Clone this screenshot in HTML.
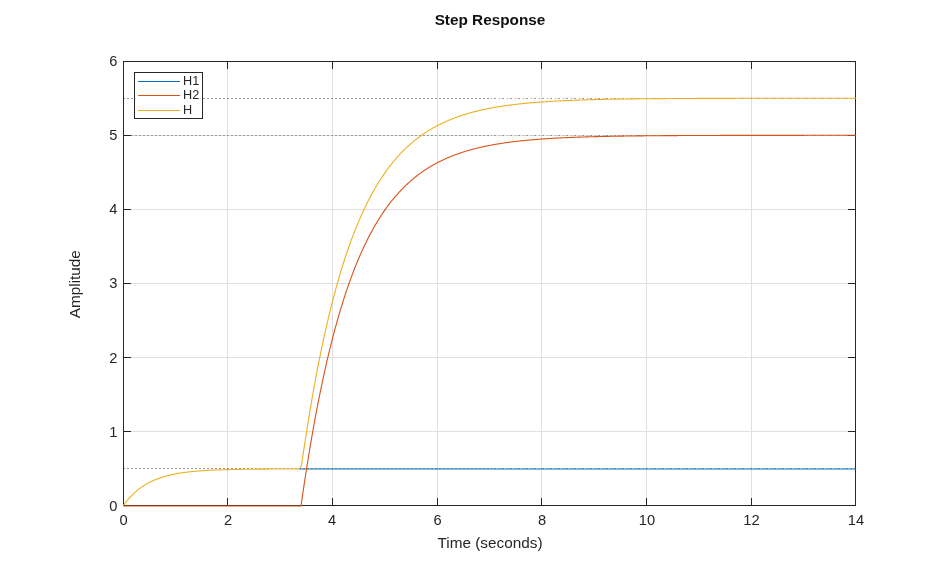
<!DOCTYPE html>
<html><head><meta charset="utf-8"><style>
html,body{margin:0;padding:0;background:#fff;width:946px;height:569px;overflow:hidden;position:relative;}
svg{will-change:transform;}
</style></head><body>
<svg width="946" height="569" viewBox="0 0 946 569" style="position:absolute;left:0;top:0">
<path d="M227.5,62 V505 M332.5,62 V505 M437.5,62 V505 M541.5,62 V505 M646.5,62 V505 M751.5,62 V505 M124,431.5 H855 M124,357.5 H855 M124,283.5 H855 M124,209.5 H855 M124,135.5 H855" stroke="#dfdfdf" stroke-width="1" fill="none"/>
<path d="M123,98.5 H489" stroke="#9a9a9a" stroke-width="1" stroke-dasharray="2,2" fill="none"/>
<path d="M491,98.5 H856" stroke="#9a9a9a" stroke-width="1" stroke-dasharray="1,2,2,3" fill="none"/>
<path d="M123,135.5 H489" stroke="#9a9a9a" stroke-width="1" stroke-dasharray="2,2" fill="none"/>
<path d="M491,135.5 H856" stroke="#9a9a9a" stroke-width="1" stroke-dasharray="1,2,2,3" fill="none"/>
<path d="M123,468.5 H489" stroke="#9a9a9a" stroke-width="1" stroke-dasharray="2,2" fill="none"/>
<path d="M491,468.5 H856" stroke="#9a9a9a" stroke-width="1" stroke-dasharray="1,2,2,3" fill="none"/>
<path d="M123.5,61.5 H855.5 V505.5 H123.5 Z M123.5,498 V505 M123.5,61 V69 M227.5,498 V505 M227.5,61 V69 M332.5,498 V505 M332.5,61 V69 M437.5,498 V505 M437.5,61 V69 M541.5,498 V505 M541.5,61 V69 M646.5,498 V505 M646.5,61 V69 M751.5,498 V505 M751.5,61 V69 M855.5,498 V505 M855.5,61 V69 M123,505.5 H131 M848,505.5 H856 M123,431.5 H131 M848,431.5 H856 M123,357.5 H131 M848,357.5 H856 M123,283.5 H131 M848,283.5 H856 M123,209.5 H131 M848,209.5 H856 M123,135.5 H131 M848,135.5 H856 M123,61.5 H131 M848,61.5 H856" stroke="#262626" stroke-width="1" fill="none"/>
<path d="M298.92,468.97 L299.44,468.97 L299.97,468.97 L300.49,468.97 L301.01,468.97 L301.54,468.97 L302.06,468.97 L302.59,468.97 L303.11,468.97 L303.63,468.97 L304.16,468.97 L304.68,468.97 L305.20,468.97 L305.73,468.96 L306.25,468.96 L306.77,468.96 L307.30,468.96 L307.82,468.96 L308.34,468.96 L308.87,468.96 L309.39,468.96 L309.91,468.96 L310.44,468.96 L310.96,468.96 L311.49,468.96 L312.01,468.96 L312.53,468.96 L313.06,468.96 L313.58,468.96 L314.10,468.96 L314.63,468.95 L315.15,468.95 L315.67,468.95 L316.20,468.95 L316.72,468.95 L317.25,468.95 L317.77,468.95 L318.29,468.95 L318.82,468.95 L319.34,468.95 L319.86,468.95 L320.39,468.95 L320.91,468.95 L321.43,468.95 L321.96,468.95 L322.48,468.95 L323.00,468.95 L323.53,468.95 L324.05,468.95 L324.57,468.95 L325.10,468.95 L325.62,468.95 L326.15,468.95 L326.67,468.95 L327.19,468.95 L327.72,468.94 L328.24,468.94 L328.76,468.94 L329.29,468.94 L329.81,468.94 L330.33,468.94 L330.86,468.94 L331.38,468.94 L331.90,468.94 L332.43,468.94 L332.95,468.94 L333.48,468.94 L334.00,468.94 L334.52,468.94 L335.05,468.94 L335.57,468.94 L336.09,468.94 L336.62,468.94 L337.14,468.94 L337.66,468.94 L338.19,468.94 L338.71,468.94 L339.24,468.94 L339.76,468.94 L340.28,468.94 L340.81,468.94 L341.33,468.94 L341.85,468.94 L342.38,468.94 L342.90,468.94 L343.42,468.94 L343.95,468.94 L344.47,468.94 L344.99,468.94 L345.52,468.94 L346.04,468.94 L346.56,468.94 L347.09,468.94 L347.61,468.94 L348.14,468.94 L348.66,468.94 L349.18,468.94 L349.71,468.94 L350.23,468.94 L350.75,468.94 L351.28,468.94 L351.80,468.94 L352.32,468.94 L352.85,468.94 L353.37,468.94 L353.89,468.94 L354.42,468.94 L354.94,468.94 L355.47,468.94 L355.99,468.94 L356.51,468.93 L357.04,468.93 L357.56,468.93 L358.08,468.93 L358.61,468.93 L359.13,468.93 L359.65,468.93 L360.18,468.93 L360.70,468.93 L361.22,468.93 L361.75,468.93 L362.27,468.93 L362.80,468.93 L363.32,468.93 L363.84,468.93 L364.37,468.93 L364.89,468.93 L365.41,468.93 L365.94,468.93 L366.46,468.93 L366.98,468.93 L367.51,468.93 L368.03,468.93 L368.56,468.93 L369.08,468.93 L369.60,468.93 L370.13,468.93 L370.65,468.93 L371.17,468.93 L371.70,468.93 L372.22,468.93 L372.74,468.93 L373.27,468.93 L373.79,468.93 L374.31,468.93 L374.84,468.93 L375.36,468.93 L375.88,468.93 L376.41,468.93 L376.93,468.93 L377.46,468.93 L377.98,468.93 L378.50,468.93 L379.03,468.93 L379.55,468.93 L380.07,468.93 L380.60,468.93 L381.12,468.93 L381.64,468.93 L382.17,468.93 L382.69,468.93 L383.21,468.93 L383.74,468.93 L384.26,468.93 L384.79,468.93 L385.31,468.93 L385.83,468.93 L386.36,468.93 L386.88,468.93 L387.40,468.93 L387.93,468.93 L388.45,468.93 L388.97,468.93 L389.50,468.93 L390.02,468.93 L390.55,468.93 L391.07,468.93 L391.59,468.93 L392.12,468.93 L392.64,468.93 L393.16,468.93 L393.69,468.93 L394.21,468.93 L394.73,468.93 L395.26,468.93 L395.78,468.93 L396.30,468.93 L396.83,468.93 L397.35,468.93 L397.88,468.93 L398.40,468.93 L398.92,468.93 L399.45,468.93 L399.97,468.93 L400.49,468.93 L401.02,468.93 L401.54,468.93 L402.06,468.93 L402.59,468.93 L403.11,468.93 L403.63,468.93 L404.16,468.93 L404.68,468.93 L405.20,468.93 L405.73,468.93 L406.25,468.93 L406.78,468.93 L407.30,468.93 L407.82,468.93 L408.35,468.93 L408.87,468.93 L409.39,468.93 L409.92,468.93 L410.44,468.93 L410.96,468.93 L411.49,468.93 L412.01,468.93 L412.53,468.93 L413.06,468.93 L413.58,468.93 L414.11,468.93 L414.63,468.93 L415.15,468.93 L415.68,468.93 L416.20,468.93 L416.72,468.93 L417.25,468.93 L417.77,468.93 L418.29,468.93 L418.82,468.93 L419.34,468.93 L419.86,468.93 L420.39,468.93 L420.91,468.93 L421.44,468.93 L421.96,468.93 L422.48,468.93 L423.01,468.93 L423.53,468.93 L424.05,468.93 L424.58,468.93 L425.10,468.93 L425.62,468.93 L426.15,468.93 L426.67,468.93 L427.19,468.93 L427.72,468.93 L428.24,468.93 L428.77,468.93 L429.29,468.93 L429.81,468.93 L430.34,468.93 L430.86,468.93 L431.38,468.93 L431.91,468.93 L432.43,468.93 L432.95,468.93 L433.48,468.93 L434.00,468.93 L434.52,468.93 L435.05,468.93 L435.57,468.93 L436.10,468.93 L436.62,468.93 L437.14,468.93 L437.67,468.93 L438.19,468.93 L438.71,468.93 L439.24,468.93 L439.76,468.93 L440.28,468.93 L440.81,468.93 L441.33,468.93 L441.85,468.93 L442.38,468.93 L442.90,468.93 L443.43,468.93 L443.95,468.93 L444.47,468.93 L445.00,468.93 L445.52,468.93 L446.04,468.93 L446.57,468.93 L447.09,468.93 L447.61,468.93 L448.14,468.93 L448.66,468.93 L449.19,468.93 L449.71,468.93 L450.23,468.93 L450.76,468.93 L451.28,468.93 L451.80,468.93 L452.33,468.93 L452.85,468.93 L453.37,468.93 L453.90,468.93 L454.42,468.93 L454.94,468.93 L455.47,468.93 L455.99,468.93 L456.51,468.93 L457.04,468.93 L457.56,468.93 L458.09,468.93 L458.61,468.93 L459.13,468.93 L459.66,468.93 L460.18,468.93 L460.70,468.93 L461.23,468.93 L461.75,468.93 L462.27,468.93 L462.80,468.93 L463.32,468.93 L463.84,468.93 L464.37,468.93 L464.89,468.93 L465.42,468.93 L465.94,468.93 L466.46,468.93 L466.99,468.93 L467.51,468.93 L468.03,468.93 L468.56,468.93 L469.08,468.93 L469.60,468.93 L470.13,468.93 L470.65,468.93 L471.18,468.93 L471.70,468.93 L472.22,468.93 L472.75,468.93 L473.27,468.93 L473.79,468.93 L474.32,468.93 L474.84,468.93 L475.36,468.93 L475.89,468.93 L476.41,468.93 L476.93,468.93 L477.46,468.93 L477.98,468.93 L478.50,468.93 L479.03,468.93 L479.55,468.93 L480.08,468.93 L480.60,468.93 L481.12,468.93 L481.65,468.93 L482.17,468.93 L482.69,468.93 L483.22,468.93 L483.74,468.93 L484.26,468.93 L484.79,468.93 L485.31,468.93 L485.83,468.93 L486.36,468.93 L486.88,468.93 L487.41,468.93 L487.93,468.93 L488.45,468.93 L488.98,468.93 L489.50,468.93 L490.02,468.93 L490.55,468.93 L491.07,468.93 L491.59,468.93 L492.12,468.93 L492.64,468.93 L493.17,468.93 L493.69,468.93 L494.21,468.93 L494.74,468.93 L495.26,468.93 L495.78,468.93 L496.31,468.93 L496.83,468.93 L497.35,468.93 L497.88,468.93 L498.40,468.93 L498.92,468.93 L499.45,468.93 L499.97,468.93 L500.50,468.93 L501.02,468.93 L501.54,468.93 L502.07,468.93 L502.59,468.93 L503.11,468.93 L503.64,468.93 L504.16,468.93 L504.68,468.93 L505.21,468.93 L505.73,468.93 L506.25,468.93 L506.78,468.93 L507.30,468.93 L507.82,468.93 L508.35,468.93 L508.87,468.93 L509.40,468.93 L509.92,468.93 L510.44,468.93 L510.97,468.93 L511.49,468.93 L512.01,468.93 L512.54,468.93 L513.06,468.93 L513.58,468.93 L514.11,468.93 L514.63,468.93 L515.15,468.93 L515.68,468.93 L516.20,468.93 L516.73,468.93 L517.25,468.93 L517.77,468.93 L518.30,468.93 L518.82,468.93 L519.34,468.93 L519.87,468.93 L520.39,468.93 L520.91,468.93 L521.44,468.93 L521.96,468.93 L522.48,468.93 L523.01,468.93 L523.53,468.93 L524.06,468.93 L524.58,468.93 L525.10,468.93 L525.63,468.93 L526.15,468.93 L526.67,468.93 L527.20,468.93 L527.72,468.93 L528.24,468.93 L528.77,468.93 L529.29,468.93 L529.81,468.93 L530.34,468.93 L530.86,468.93 L531.39,468.93 L531.91,468.93 L532.43,468.93 L532.96,468.93 L533.48,468.93 L534.00,468.93 L534.53,468.93 L535.05,468.93 L535.57,468.93 L536.10,468.93 L536.62,468.93 L537.14,468.93 L537.67,468.93 L538.19,468.93 L538.72,468.93 L539.24,468.93 L539.76,468.93 L540.29,468.93 L540.81,468.93 L541.33,468.93 L541.86,468.93 L542.38,468.93 L542.90,468.93 L543.43,468.93 L543.95,468.93 L544.48,468.93 L545.00,468.93 L545.52,468.93 L546.05,468.93 L546.57,468.93 L547.09,468.93 L547.62,468.93 L548.14,468.93 L548.66,468.93 L549.19,468.93 L549.71,468.93 L550.23,468.93 L550.76,468.93 L551.28,468.93 L551.80,468.93 L552.33,468.93 L552.85,468.93 L553.38,468.93 L553.90,468.93 L554.42,468.93 L554.95,468.93 L555.47,468.93 L555.99,468.93 L556.52,468.93 L557.04,468.93 L557.56,468.93 L558.09,468.93 L558.61,468.93 L559.13,468.93 L559.66,468.93 L560.18,468.93 L560.71,468.93 L561.23,468.93 L561.75,468.93 L562.28,468.93 L562.80,468.93 L563.32,468.93 L563.85,468.93 L564.37,468.93 L564.89,468.93 L565.42,468.93 L565.94,468.93 L566.47,468.93 L566.99,468.93 L567.51,468.93 L568.04,468.93 L568.56,468.93 L569.08,468.93 L569.61,468.93 L570.13,468.93 L570.65,468.93 L571.18,468.93 L571.70,468.93 L572.22,468.93 L572.75,468.93 L573.27,468.93 L573.79,468.93 L574.32,468.93 L574.84,468.93 L575.37,468.93 L575.89,468.93 L576.41,468.93 L576.94,468.93 L577.46,468.93 L577.98,468.93 L578.51,468.93 L579.03,468.93 L579.55,468.93 L580.08,468.93 L580.60,468.93 L581.12,468.93 L581.65,468.93 L582.17,468.93 L582.70,468.93 L583.22,468.93 L583.74,468.93 L584.27,468.93 L584.79,468.93 L585.31,468.93 L585.84,468.93 L586.36,468.93 L586.88,468.93 L587.41,468.93 L587.93,468.93 L588.45,468.93 L588.98,468.93 L589.50,468.93 L590.03,468.93 L590.55,468.93 L591.07,468.93 L591.60,468.93 L592.12,468.93 L592.64,468.93 L593.17,468.93 L593.69,468.93 L594.21,468.93 L594.74,468.93 L595.26,468.93 L595.78,468.93 L596.31,468.93 L596.83,468.93 L597.36,468.93 L597.88,468.93 L598.40,468.93 L598.93,468.93 L599.45,468.93 L599.97,468.93 L600.50,468.93 L601.02,468.93 L601.54,468.93 L602.07,468.93 L602.59,468.93 L603.12,468.93 L603.64,468.93 L604.16,468.93 L604.69,468.93 L605.21,468.93 L605.73,468.93 L606.26,468.93 L606.78,468.93 L607.30,468.93 L607.83,468.93 L608.35,468.93 L608.87,468.93 L609.40,468.93 L609.92,468.93 L610.44,468.93 L610.97,468.93 L611.49,468.93 L612.02,468.93 L612.54,468.93 L613.06,468.93 L613.59,468.93 L614.11,468.93 L614.63,468.93 L615.16,468.93 L615.68,468.93 L616.20,468.93 L616.73,468.93 L617.25,468.93 L617.77,468.93 L618.30,468.93 L618.82,468.93 L619.35,468.93 L619.87,468.93 L620.39,468.93 L620.92,468.93 L621.44,468.93 L621.96,468.93 L622.49,468.93 L623.01,468.93 L623.53,468.93 L624.06,468.93 L624.58,468.93 L625.11,468.93 L625.63,468.93 L626.15,468.93 L626.68,468.93 L627.20,468.93 L627.72,468.93 L628.25,468.93 L628.77,468.93 L629.29,468.93 L629.82,468.93 L630.34,468.93 L630.86,468.93 L631.39,468.93 L631.91,468.93 L632.43,468.93 L632.96,468.93 L633.48,468.93 L634.01,468.93 L634.53,468.93 L635.05,468.93 L635.58,468.93 L636.10,468.93 L636.62,468.93 L637.15,468.93 L637.67,468.93 L638.19,468.93 L638.72,468.93 L639.24,468.93 L639.76,468.93 L640.29,468.93 L640.81,468.93 L641.34,468.93 L641.86,468.93 L642.38,468.93 L642.91,468.93 L643.43,468.93 L643.95,468.93 L644.48,468.93 L645.00,468.93 L645.52,468.93 L646.05,468.93 L646.57,468.93 L647.09,468.93 L647.62,468.93 L648.14,468.93 L648.67,468.93 L649.19,468.93 L649.71,468.93 L650.24,468.93 L650.76,468.93 L651.28,468.93 L651.81,468.93 L652.33,468.93 L652.85,468.93 L653.38,468.93 L653.90,468.93 L654.42,468.93 L654.95,468.93 L655.47,468.93 L656.00,468.93 L656.52,468.93 L657.04,468.93 L657.57,468.93 L658.09,468.93 L658.61,468.93 L659.14,468.93 L659.66,468.93 L660.18,468.93 L660.71,468.93 L661.23,468.93 L661.75,468.93 L662.28,468.93 L662.80,468.93 L663.33,468.93 L663.85,468.93 L664.37,468.93 L664.90,468.93 L665.42,468.93 L665.94,468.93 L666.47,468.93 L666.99,468.93 L667.51,468.93 L668.04,468.93 L668.56,468.93 L669.08,468.93 L669.61,468.93 L670.13,468.93 L670.66,468.93 L671.18,468.93 L671.70,468.93 L672.23,468.93 L672.75,468.93 L673.27,468.93 L673.80,468.93 L674.32,468.93 L674.84,468.93 L675.37,468.93 L675.89,468.93 L676.41,468.93 L676.94,468.93 L677.46,468.93 L677.99,468.93 L678.51,468.93 L679.03,468.93 L679.56,468.93 L680.08,468.93 L680.60,468.93 L681.13,468.93 L681.65,468.93 L682.17,468.93 L682.70,468.93 L683.22,468.93 L683.75,468.93 L684.27,468.93 L684.79,468.93 L685.32,468.93 L685.84,468.93 L686.36,468.93 L686.89,468.93 L687.41,468.93 L687.93,468.93 L688.46,468.93 L688.98,468.93 L689.50,468.93 L690.03,468.93 L690.55,468.93 L691.07,468.93 L691.60,468.93 L692.12,468.93 L692.65,468.93 L693.17,468.93 L693.69,468.93 L694.22,468.93 L694.74,468.93 L695.26,468.93 L695.79,468.93 L696.31,468.93 L696.83,468.93 L697.36,468.93 L697.88,468.93 L698.40,468.93 L698.93,468.93 L699.45,468.93 L699.98,468.93 L700.50,468.93 L701.02,468.93 L701.55,468.93 L702.07,468.93 L702.59,468.93 L703.12,468.93 L703.64,468.93 L704.16,468.93 L704.69,468.93 L705.21,468.93 L705.74,468.93 L706.26,468.93 L706.78,468.93 L707.31,468.93 L707.83,468.93 L708.35,468.93 L708.88,468.93 L709.40,468.93 L709.92,468.93 L710.45,468.93 L710.97,468.93 L711.49,468.93 L712.02,468.93 L712.54,468.93 L713.06,468.93 L713.59,468.93 L714.11,468.93 L714.64,468.93 L715.16,468.93 L715.68,468.93 L716.21,468.93 L716.73,468.93 L717.25,468.93 L717.78,468.93 L718.30,468.93 L718.82,468.93 L719.35,468.93 L719.87,468.93 L720.39,468.93 L720.92,468.93 L721.44,468.93 L721.97,468.93 L722.49,468.93 L723.01,468.93 L723.54,468.93 L724.06,468.93 L724.58,468.93 L725.11,468.93 L725.63,468.93 L726.15,468.93 L726.68,468.93 L727.20,468.93 L727.73,468.93 L728.25,468.93 L728.77,468.93 L729.30,468.93 L729.82,468.93 L730.34,468.93 L730.87,468.93 L731.39,468.93 L731.91,468.93 L732.44,468.93 L732.96,468.93 L733.48,468.93 L734.01,468.93 L734.53,468.93 L735.05,468.93 L735.58,468.93 L736.10,468.93 L736.63,468.93 L737.15,468.93 L737.67,468.93 L738.20,468.93 L738.72,468.93 L739.24,468.93 L739.77,468.93 L740.29,468.93 L740.81,468.93 L741.34,468.93 L741.86,468.93 L742.38,468.93 L742.91,468.93 L743.43,468.93 L743.96,468.93 L744.48,468.93 L745.00,468.93 L745.53,468.93 L746.05,468.93 L746.57,468.93 L747.10,468.93 L747.62,468.93 L748.14,468.93 L748.67,468.93 L749.19,468.93 L749.72,468.93 L750.24,468.93 L750.76,468.93 L751.29,468.93 L751.81,468.93 L752.33,468.93 L752.86,468.93 L753.38,468.93 L753.90,468.93 L754.43,468.93 L754.95,468.93 L755.47,468.93 L756.00,468.93 L756.52,468.93 L757.04,468.93 L757.57,468.93 L758.09,468.93 L758.62,468.93 L759.14,468.93 L759.66,468.93 L760.19,468.93 L760.71,468.93 L761.23,468.93 L761.76,468.93 L762.28,468.93 L762.80,468.93 L763.33,468.93 L763.85,468.93 L764.38,468.93 L764.90,468.93 L765.42,468.93 L765.95,468.93 L766.47,468.93 L766.99,468.93 L767.52,468.93 L768.04,468.93 L768.56,468.93 L769.09,468.93 L769.61,468.93 L770.13,468.93 L770.66,468.93 L771.18,468.93 L771.71,468.93 L772.23,468.93 L772.75,468.93 L773.28,468.93 L773.80,468.93 L774.32,468.93 L774.85,468.93 L775.37,468.93 L775.89,468.93 L776.42,468.93 L776.94,468.93 L777.46,468.93 L777.99,468.93 L778.51,468.93 L779.03,468.93 L779.56,468.93 L780.08,468.93 L780.61,468.93 L781.13,468.93 L781.65,468.93 L782.18,468.93 L782.70,468.93 L783.22,468.93 L783.75,468.93 L784.27,468.93 L784.79,468.93 L785.32,468.93 L785.84,468.93 L786.37,468.93 L786.89,468.93 L787.41,468.93 L787.94,468.93 L788.46,468.93 L788.98,468.93 L789.51,468.93 L790.03,468.93 L790.55,468.93 L791.08,468.93 L791.60,468.93 L792.12,468.93 L792.65,468.93 L793.17,468.93 L793.69,468.93 L794.22,468.93 L794.74,468.93 L795.27,468.93 L795.79,468.93 L796.31,468.93 L796.84,468.93 L797.36,468.93 L797.88,468.93 L798.41,468.93 L798.93,468.93 L799.45,468.93 L799.98,468.93 L800.50,468.93 L801.02,468.93 L801.55,468.93 L802.07,468.93 L802.60,468.93 L803.12,468.93 L803.64,468.93 L804.17,468.93 L804.69,468.93 L805.21,468.93 L805.74,468.93 L806.26,468.93 L806.78,468.93 L807.31,468.93 L807.83,468.93 L808.35,468.93 L808.88,468.93 L809.40,468.93 L809.93,468.93 L810.45,468.93 L810.97,468.93 L811.50,468.93 L812.02,468.93 L812.54,468.93 L813.07,468.93 L813.59,468.93 L814.11,468.93 L814.64,468.93 L815.16,468.93 L815.68,468.93 L816.21,468.93 L816.73,468.93 L817.26,468.93 L817.78,468.93 L818.30,468.93 L818.83,468.93 L819.35,468.93 L819.87,468.93 L820.40,468.93 L820.92,468.93 L821.44,468.93 L821.97,468.93 L822.49,468.93 L823.01,468.93 L823.54,468.93 L824.06,468.93 L824.59,468.93 L825.11,468.93 L825.63,468.93 L826.16,468.93 L826.68,468.93 L827.20,468.93 L827.73,468.93 L828.25,468.93 L828.77,468.93 L829.30,468.93 L829.82,468.93 L830.34,468.93 L830.87,468.93 L831.39,468.93 L831.92,468.93 L832.44,468.93 L832.96,468.93 L833.49,468.93 L834.01,468.93 L834.53,468.93 L835.06,468.93 L835.58,468.93 L836.10,468.93 L836.63,468.93 L837.15,468.93 L837.67,468.93 L838.20,468.93 L838.72,468.93 L839.25,468.93 L839.77,468.93 L840.29,468.93 L840.82,468.93 L841.34,468.93 L841.86,468.93 L842.39,468.93 L842.91,468.93 L843.43,468.93 L843.96,468.93 L844.48,468.93 L845.00,468.93 L845.53,468.93 L846.05,468.93 L846.58,468.93 L847.10,468.93 L847.62,468.93 L848.15,468.93 L848.67,468.93 L849.19,468.93 L849.72,468.93 L850.24,468.93 L850.76,468.93 L851.29,468.93 L851.81,468.93 L852.33,468.93 L852.86,468.93 L853.38,468.93 L853.91,468.93 L854.43,468.93 L854.95,468.93 L855.48,468.93 L856.00,468.93" stroke="#0072bd" stroke-width="1.1" fill="none"/>
<path d="M123.00,506.00 L123.52,506.00 L124.05,506.00 L124.57,506.00 L125.09,506.00 L125.62,506.00 L126.14,506.00 L126.67,506.00 L127.19,506.00 L127.71,506.00 L128.24,506.00 L128.76,506.00 L129.28,506.00 L129.81,506.00 L130.33,506.00 L130.85,506.00 L131.38,506.00 L131.90,506.00 L132.42,506.00 L132.95,506.00 L133.47,506.00 L134.00,506.00 L134.52,506.00 L135.04,506.00 L135.57,506.00 L136.09,506.00 L136.61,506.00 L137.14,506.00 L137.66,506.00 L138.18,506.00 L138.71,506.00 L139.23,506.00 L139.75,506.00 L140.28,506.00 L140.80,506.00 L141.32,506.00 L141.85,506.00 L142.37,506.00 L142.90,506.00 L143.42,506.00 L143.94,506.00 L144.47,506.00 L144.99,506.00 L145.51,506.00 L146.04,506.00 L146.56,506.00 L147.08,506.00 L147.61,506.00 L148.13,506.00 L148.66,506.00 L149.18,506.00 L149.70,506.00 L150.23,506.00 L150.75,506.00 L151.27,506.00 L151.80,506.00 L152.32,506.00 L152.84,506.00 L153.37,506.00 L153.89,506.00 L154.41,506.00 L154.94,506.00 L155.46,506.00 L155.99,506.00 L156.51,506.00 L157.03,506.00 L157.56,506.00 L158.08,506.00 L158.60,506.00 L159.13,506.00 L159.65,506.00 L160.17,506.00 L160.70,506.00 L161.22,506.00 L161.74,506.00 L162.27,506.00 L162.79,506.00 L163.31,506.00 L163.84,506.00 L164.36,506.00 L164.89,506.00 L165.41,506.00 L165.93,506.00 L166.46,506.00 L166.98,506.00 L167.50,506.00 L168.03,506.00 L168.55,506.00 L169.07,506.00 L169.60,506.00 L170.12,506.00 L170.64,506.00 L171.17,506.00 L171.69,506.00 L172.22,506.00 L172.74,506.00 L173.26,506.00 L173.79,506.00 L174.31,506.00 L174.83,506.00 L175.36,506.00 L175.88,506.00 L176.40,506.00 L176.93,506.00 L177.45,506.00 L177.97,506.00 L178.50,506.00 L179.02,506.00 L179.55,506.00 L180.07,506.00 L180.59,506.00 L181.12,506.00 L181.64,506.00 L182.16,506.00 L182.69,506.00 L183.21,506.00 L183.73,506.00 L184.26,506.00 L184.78,506.00 L185.31,506.00 L185.83,506.00 L186.35,506.00 L186.88,506.00 L187.40,506.00 L187.92,506.00 L188.45,506.00 L188.97,506.00 L189.49,506.00 L190.02,506.00 L190.54,506.00 L191.06,506.00 L191.59,506.00 L192.11,506.00 L192.63,506.00 L193.16,506.00 L193.68,506.00 L194.21,506.00 L194.73,506.00 L195.25,506.00 L195.78,506.00 L196.30,506.00 L196.82,506.00 L197.35,506.00 L197.87,506.00 L198.39,506.00 L198.92,506.00 L199.44,506.00 L199.96,506.00 L200.49,506.00 L201.01,506.00 L201.54,506.00 L202.06,506.00 L202.58,506.00 L203.11,506.00 L203.63,506.00 L204.15,506.00 L204.68,506.00 L205.20,506.00 L205.72,506.00 L206.25,506.00 L206.77,506.00 L207.30,506.00 L207.82,506.00 L208.34,506.00 L208.87,506.00 L209.39,506.00 L209.91,506.00 L210.44,506.00 L210.96,506.00 L211.48,506.00 L212.01,506.00 L212.53,506.00 L213.05,506.00 L213.58,506.00 L214.10,506.00 L214.62,506.00 L215.15,506.00 L215.67,506.00 L216.20,506.00 L216.72,506.00 L217.24,506.00 L217.77,506.00 L218.29,506.00 L218.81,506.00 L219.34,506.00 L219.86,506.00 L220.38,506.00 L220.91,506.00 L221.43,506.00 L221.95,506.00 L222.48,506.00 L223.00,506.00 L223.53,506.00 L224.05,506.00 L224.57,506.00 L225.10,506.00 L225.62,506.00 L226.14,506.00 L226.67,506.00 L227.19,506.00 L227.71,506.00 L228.24,506.00 L228.76,506.00 L229.28,506.00 L229.81,506.00 L230.33,506.00 L230.86,506.00 L231.38,506.00 L231.90,506.00 L232.43,506.00 L232.95,506.00 L233.47,506.00 L234.00,506.00 L234.52,506.00 L235.04,506.00 L235.57,506.00 L236.09,506.00 L236.62,506.00 L237.14,506.00 L237.66,506.00 L238.19,506.00 L238.71,506.00 L239.23,506.00 L239.76,506.00 L240.28,506.00 L240.80,506.00 L241.33,506.00 L241.85,506.00 L242.37,506.00 L242.90,506.00 L243.42,506.00 L243.94,506.00 L244.47,506.00 L244.99,506.00 L245.52,506.00 L246.04,506.00 L246.56,506.00 L247.09,506.00 L247.61,506.00 L248.13,506.00 L248.66,506.00 L249.18,506.00 L249.70,506.00 L250.23,506.00 L250.75,506.00 L251.28,506.00 L251.80,506.00 L252.32,506.00 L252.85,506.00 L253.37,506.00 L253.89,506.00 L254.42,506.00 L254.94,506.00 L255.46,506.00 L255.99,506.00 L256.51,506.00 L257.03,506.00 L257.56,506.00 L258.08,506.00 L258.61,506.00 L259.13,506.00 L259.65,506.00 L260.18,506.00 L260.70,506.00 L261.22,506.00 L261.75,506.00 L262.27,506.00 L262.79,506.00 L263.32,506.00 L263.84,506.00 L264.36,506.00 L264.89,506.00 L265.41,506.00 L265.94,506.00 L266.46,506.00 L266.98,506.00 L267.51,506.00 L268.03,506.00 L268.55,506.00 L269.08,506.00 L269.60,506.00 L270.12,506.00 L270.65,506.00 L271.17,506.00 L271.69,506.00 L272.22,506.00 L272.74,506.00 L273.26,506.00 L273.79,506.00 L274.31,506.00 L274.84,506.00 L275.36,506.00 L275.88,506.00 L276.41,506.00 L276.93,506.00 L277.45,506.00 L277.98,506.00 L278.50,506.00 L279.02,506.00 L279.55,506.00 L280.07,506.00 L280.59,506.00 L281.12,506.00 L281.64,506.00 L282.17,506.00 L282.69,506.00 L283.21,506.00 L283.74,506.00 L284.26,506.00 L284.78,506.00 L285.31,506.00 L285.83,506.00 L286.35,506.00 L286.88,506.00 L287.40,506.00 L287.92,506.00 L288.45,506.00 L288.97,506.00 L289.50,506.00 L290.02,506.00 L290.54,506.00 L291.07,506.00 L291.59,506.00 L292.11,506.00 L292.64,506.00 L293.16,506.00 L293.68,506.00 L294.21,506.00 L294.73,506.00 L295.25,506.00 L295.78,506.00 L296.30,506.00 L296.83,506.00 L297.35,506.00 L297.87,506.00 L298.40,506.00 L298.92,506.00 L299.44,506.00 L299.97,506.00 L300.49,506.00 L301.01,506.00 L301.54,502.31 L302.06,498.66 L302.59,495.04 L303.11,491.46 L303.63,487.92 L304.16,484.41 L304.68,480.94 L305.20,477.50 L305.73,474.09 L306.25,470.72 L306.77,467.39 L307.30,464.08 L307.82,460.81 L308.34,457.57 L308.87,454.36 L309.39,451.19 L309.91,448.05 L310.44,444.93 L310.96,441.85 L311.49,438.80 L312.01,435.78 L312.53,432.79 L313.06,429.83 L313.58,426.90 L314.10,424.00 L314.63,421.13 L315.15,418.28 L315.67,415.47 L316.20,412.68 L316.72,409.92 L317.25,407.19 L317.77,404.48 L318.29,401.81 L318.82,399.15 L319.34,396.53 L319.86,393.93 L320.39,391.36 L320.91,388.81 L321.43,386.28 L321.96,383.79 L322.48,381.32 L323.00,378.87 L323.53,376.44 L324.05,374.04 L324.57,371.67 L325.10,369.32 L325.62,366.99 L326.15,364.68 L326.67,362.40 L327.19,360.14 L327.72,357.90 L328.24,355.69 L328.76,353.50 L329.29,351.32 L329.81,349.18 L330.33,347.05 L330.86,344.94 L331.38,342.85 L331.90,340.79 L332.43,338.74 L332.95,336.72 L333.48,334.72 L334.00,332.73 L334.52,330.77 L335.05,328.82 L335.57,326.90 L336.09,324.99 L336.62,323.10 L337.14,321.23 L337.66,319.38 L338.19,317.55 L338.71,315.74 L339.24,313.94 L339.76,312.17 L340.28,310.41 L340.81,308.66 L341.33,306.94 L341.85,305.23 L342.38,303.54 L342.90,301.87 L343.42,300.21 L343.95,298.57 L344.47,296.94 L344.99,295.34 L345.52,293.74 L346.04,292.17 L346.56,290.61 L347.09,289.06 L347.61,287.53 L348.14,286.02 L348.66,284.52 L349.18,283.03 L349.71,281.56 L350.23,280.11 L350.75,278.66 L351.28,277.24 L351.80,275.83 L352.32,274.43 L352.85,273.04 L353.37,271.67 L353.89,270.32 L354.42,268.97 L354.94,267.64 L355.47,266.33 L355.99,265.02 L356.51,263.73 L357.04,262.45 L357.56,261.19 L358.08,259.94 L358.61,258.70 L359.13,257.47 L359.65,256.25 L360.18,255.05 L360.70,253.86 L361.22,252.68 L361.75,251.51 L362.27,250.35 L362.80,249.21 L363.32,248.07 L363.84,246.95 L364.37,245.84 L364.89,244.74 L365.41,243.65 L365.94,242.57 L366.46,241.51 L366.98,240.45 L367.51,239.40 L368.03,238.37 L368.56,237.34 L369.08,236.33 L369.60,235.32 L370.13,234.33 L370.65,233.34 L371.17,232.37 L371.70,231.40 L372.22,230.44 L372.74,229.50 L373.27,228.56 L373.79,227.63 L374.31,226.71 L374.84,225.80 L375.36,224.90 L375.88,224.01 L376.41,223.13 L376.93,222.26 L377.46,221.39 L377.98,220.53 L378.50,219.69 L379.03,218.85 L379.55,218.01 L380.07,217.19 L380.60,216.38 L381.12,215.57 L381.64,214.77 L382.17,213.98 L382.69,213.20 L383.21,212.42 L383.74,211.65 L384.26,210.90 L384.79,210.14 L385.31,209.40 L385.83,208.66 L386.36,207.93 L386.88,207.21 L387.40,206.49 L387.93,205.78 L388.45,205.08 L388.97,204.39 L389.50,203.70 L390.02,203.02 L390.55,202.35 L391.07,201.68 L391.59,201.02 L392.12,200.37 L392.64,199.72 L393.16,199.08 L393.69,198.44 L394.21,197.81 L394.73,197.19 L395.26,196.58 L395.78,195.97 L396.30,195.36 L396.83,194.77 L397.35,194.17 L397.88,193.59 L398.40,193.01 L398.92,192.43 L399.45,191.87 L399.97,191.30 L400.49,190.75 L401.02,190.19 L401.54,189.65 L402.06,189.11 L402.59,188.57 L403.11,188.04 L403.63,187.52 L404.16,187.00 L404.68,186.48 L405.20,185.97 L405.73,185.47 L406.25,184.97 L406.78,184.48 L407.30,183.99 L407.82,183.50 L408.35,183.02 L408.87,182.55 L409.39,182.08 L409.92,181.61 L410.44,181.15 L410.96,180.69 L411.49,180.24 L412.01,179.80 L412.53,179.35 L413.06,178.91 L413.58,178.48 L414.11,178.05 L414.63,177.63 L415.15,177.20 L415.68,176.79 L416.20,176.37 L416.72,175.97 L417.25,175.56 L417.77,175.16 L418.29,174.76 L418.82,174.37 L419.34,173.98 L419.86,173.60 L420.39,173.22 L420.91,172.84 L421.44,172.47 L421.96,172.10 L422.48,171.73 L423.01,171.37 L423.53,171.01 L424.05,170.65 L424.58,170.30 L425.10,169.95 L425.62,169.61 L426.15,169.27 L426.67,168.93 L427.19,168.59 L427.72,168.26 L428.24,167.94 L428.77,167.61 L429.29,167.29 L429.81,166.97 L430.34,166.66 L430.86,166.34 L431.38,166.03 L431.91,165.73 L432.43,165.43 L432.95,165.13 L433.48,164.83 L434.00,164.54 L434.52,164.24 L435.05,163.96 L435.57,163.67 L436.10,163.39 L436.62,163.11 L437.14,162.83 L437.67,162.56 L438.19,162.29 L438.71,162.02 L439.24,161.75 L439.76,161.49 L440.28,161.23 L440.81,160.97 L441.33,160.72 L441.85,160.46 L442.38,160.21 L442.90,159.97 L443.43,159.72 L443.95,159.48 L444.47,159.24 L445.00,159.00 L445.52,158.76 L446.04,158.53 L446.57,158.30 L447.09,158.07 L447.61,157.84 L448.14,157.62 L448.66,157.40 L449.19,157.18 L449.71,156.96 L450.23,156.74 L450.76,156.53 L451.28,156.32 L451.80,156.11 L452.33,155.90 L452.85,155.70 L453.37,155.49 L453.90,155.29 L454.42,155.09 L454.94,154.90 L455.47,154.70 L455.99,154.51 L456.51,154.32 L457.04,154.13 L457.56,153.94 L458.09,153.76 L458.61,153.57 L459.13,153.39 L459.66,153.21 L460.18,153.03 L460.70,152.86 L461.23,152.68 L461.75,152.51 L462.27,152.34 L462.80,152.17 L463.32,152.00 L463.84,151.83 L464.37,151.67 L464.89,151.51 L465.42,151.34 L465.94,151.19 L466.46,151.03 L466.99,150.87 L467.51,150.72 L468.03,150.56 L468.56,150.41 L469.08,150.26 L469.60,150.11 L470.13,149.96 L470.65,149.82 L471.18,149.67 L471.70,149.53 L472.22,149.39 L472.75,149.25 L473.27,149.11 L473.79,148.97 L474.32,148.84 L474.84,148.70 L475.36,148.57 L475.89,148.44 L476.41,148.31 L476.93,148.18 L477.46,148.05 L477.98,147.92 L478.50,147.80 L479.03,147.67 L479.55,147.55 L480.08,147.43 L480.60,147.31 L481.12,147.19 L481.65,147.07 L482.17,146.95 L482.69,146.84 L483.22,146.72 L483.74,146.61 L484.26,146.49 L484.79,146.38 L485.31,146.27 L485.83,146.16 L486.36,146.06 L486.88,145.95 L487.41,145.84 L487.93,145.74 L488.45,145.63 L488.98,145.53 L489.50,145.43 L490.02,145.33 L490.55,145.23 L491.07,145.13 L491.59,145.03 L492.12,144.93 L492.64,144.84 L493.17,144.74 L493.69,144.65 L494.21,144.56 L494.74,144.47 L495.26,144.37 L495.78,144.28 L496.31,144.19 L496.83,144.11 L497.35,144.02 L497.88,143.93 L498.40,143.85 L498.92,143.76 L499.45,143.68 L499.97,143.59 L500.50,143.51 L501.02,143.43 L501.54,143.35 L502.07,143.27 L502.59,143.19 L503.11,143.11 L503.64,143.03 L504.16,142.96 L504.68,142.88 L505.21,142.80 L505.73,142.73 L506.25,142.66 L506.78,142.58 L507.30,142.51 L507.82,142.44 L508.35,142.37 L508.87,142.30 L509.40,142.23 L509.92,142.16 L510.44,142.09 L510.97,142.02 L511.49,141.96 L512.01,141.89 L512.54,141.82 L513.06,141.76 L513.58,141.69 L514.11,141.63 L514.63,141.57 L515.15,141.51 L515.68,141.44 L516.20,141.38 L516.73,141.32 L517.25,141.26 L517.77,141.20 L518.30,141.14 L518.82,141.09 L519.34,141.03 L519.87,140.97 L520.39,140.91 L520.91,140.86 L521.44,140.80 L521.96,140.75 L522.48,140.69 L523.01,140.64 L523.53,140.59 L524.06,140.54 L524.58,140.48 L525.10,140.43 L525.63,140.38 L526.15,140.33 L526.67,140.28 L527.20,140.23 L527.72,140.18 L528.24,140.13 L528.77,140.08 L529.29,140.04 L529.81,139.99 L530.34,139.94 L530.86,139.90 L531.39,139.85 L531.91,139.81 L532.43,139.76 L532.96,139.72 L533.48,139.67 L534.00,139.63 L534.53,139.59 L535.05,139.54 L535.57,139.50 L536.10,139.46 L536.62,139.42 L537.14,139.38 L537.67,139.34 L538.19,139.30 L538.72,139.26 L539.24,139.22 L539.76,139.18 L540.29,139.14 L540.81,139.10 L541.33,139.06 L541.86,139.03 L542.38,138.99 L542.90,138.95 L543.43,138.92 L543.95,138.88 L544.48,138.84 L545.00,138.81 L545.52,138.77 L546.05,138.74 L546.57,138.71 L547.09,138.67 L547.62,138.64 L548.14,138.60 L548.66,138.57 L549.19,138.54 L549.71,138.51 L550.23,138.48 L550.76,138.44 L551.28,138.41 L551.80,138.38 L552.33,138.35 L552.85,138.32 L553.38,138.29 L553.90,138.26 L554.42,138.23 L554.95,138.20 L555.47,138.17 L555.99,138.14 L556.52,138.12 L557.04,138.09 L557.56,138.06 L558.09,138.03 L558.61,138.01 L559.13,137.98 L559.66,137.95 L560.18,137.93 L560.71,137.90 L561.23,137.87 L561.75,137.85 L562.28,137.82 L562.80,137.80 L563.32,137.77 L563.85,137.75 L564.37,137.72 L564.89,137.70 L565.42,137.68 L565.94,137.65 L566.47,137.63 L566.99,137.61 L567.51,137.58 L568.04,137.56 L568.56,137.54 L569.08,137.52 L569.61,137.49 L570.13,137.47 L570.65,137.45 L571.18,137.43 L571.70,137.41 L572.22,137.39 L572.75,137.37 L573.27,137.34 L573.79,137.32 L574.32,137.30 L574.84,137.28 L575.37,137.26 L575.89,137.25 L576.41,137.23 L576.94,137.21 L577.46,137.19 L577.98,137.17 L578.51,137.15 L579.03,137.13 L579.55,137.11 L580.08,137.10 L580.60,137.08 L581.12,137.06 L581.65,137.04 L582.17,137.03 L582.70,137.01 L583.22,136.99 L583.74,136.97 L584.27,136.96 L584.79,136.94 L585.31,136.92 L585.84,136.91 L586.36,136.89 L586.88,136.88 L587.41,136.86 L587.93,136.85 L588.45,136.83 L588.98,136.81 L589.50,136.80 L590.03,136.78 L590.55,136.77 L591.07,136.76 L591.60,136.74 L592.12,136.73 L592.64,136.71 L593.17,136.70 L593.69,136.68 L594.21,136.67 L594.74,136.66 L595.26,136.64 L595.78,136.63 L596.31,136.62 L596.83,136.60 L597.36,136.59 L597.88,136.58 L598.40,136.57 L598.93,136.55 L599.45,136.54 L599.97,136.53 L600.50,136.52 L601.02,136.50 L601.54,136.49 L602.07,136.48 L602.59,136.47 L603.12,136.46 L603.64,136.44 L604.16,136.43 L604.69,136.42 L605.21,136.41 L605.73,136.40 L606.26,136.39 L606.78,136.38 L607.30,136.37 L607.83,136.36 L608.35,136.35 L608.87,136.34 L609.40,136.33 L609.92,136.32 L610.44,136.31 L610.97,136.30 L611.49,136.29 L612.02,136.28 L612.54,136.27 L613.06,136.26 L613.59,136.25 L614.11,136.24 L614.63,136.23 L615.16,136.22 L615.68,136.21 L616.20,136.20 L616.73,136.19 L617.25,136.18 L617.77,136.17 L618.30,136.17 L618.82,136.16 L619.35,136.15 L619.87,136.14 L620.39,136.13 L620.92,136.12 L621.44,136.11 L621.96,136.11 L622.49,136.10 L623.01,136.09 L623.53,136.08 L624.06,136.08 L624.58,136.07 L625.11,136.06 L625.63,136.05 L626.15,136.04 L626.68,136.04 L627.20,136.03 L627.72,136.02 L628.25,136.02 L628.77,136.01 L629.29,136.00 L629.82,135.99 L630.34,135.99 L630.86,135.98 L631.39,135.97 L631.91,135.97 L632.43,135.96 L632.96,135.95 L633.48,135.95 L634.01,135.94 L634.53,135.93 L635.05,135.93 L635.58,135.92 L636.10,135.92 L636.62,135.91 L637.15,135.90 L637.67,135.90 L638.19,135.89 L638.72,135.89 L639.24,135.88 L639.76,135.87 L640.29,135.87 L640.81,135.86 L641.34,135.86 L641.86,135.85 L642.38,135.85 L642.91,135.84 L643.43,135.84 L643.95,135.83 L644.48,135.82 L645.00,135.82 L645.52,135.81 L646.05,135.81 L646.57,135.80 L647.09,135.80 L647.62,135.79 L648.14,135.79 L648.67,135.78 L649.19,135.78 L649.71,135.77 L650.24,135.77 L650.76,135.77 L651.28,135.76 L651.81,135.76 L652.33,135.75 L652.85,135.75 L653.38,135.74 L653.90,135.74 L654.42,135.73 L654.95,135.73 L655.47,135.73 L656.00,135.72 L656.52,135.72 L657.04,135.71 L657.57,135.71 L658.09,135.70 L658.61,135.70 L659.14,135.70 L659.66,135.69 L660.18,135.69 L660.71,135.68 L661.23,135.68 L661.75,135.68 L662.28,135.67 L662.80,135.67 L663.33,135.67 L663.85,135.66 L664.37,135.66 L664.90,135.66 L665.42,135.65 L665.94,135.65 L666.47,135.64 L666.99,135.64 L667.51,135.64 L668.04,135.63 L668.56,135.63 L669.08,135.63 L669.61,135.62 L670.13,135.62 L670.66,135.62 L671.18,135.62 L671.70,135.61 L672.23,135.61 L672.75,135.61 L673.27,135.60 L673.80,135.60 L674.32,135.60 L674.84,135.59 L675.37,135.59 L675.89,135.59 L676.41,135.59 L676.94,135.58 L677.46,135.58 L677.99,135.58 L678.51,135.57 L679.03,135.57 L679.56,135.57 L680.08,135.57 L680.60,135.56 L681.13,135.56 L681.65,135.56 L682.17,135.56 L682.70,135.55 L683.22,135.55 L683.75,135.55 L684.27,135.55 L684.79,135.54 L685.32,135.54 L685.84,135.54 L686.36,135.54 L686.89,135.53 L687.41,135.53 L687.93,135.53 L688.46,135.53 L688.98,135.52 L689.50,135.52 L690.03,135.52 L690.55,135.52 L691.07,135.52 L691.60,135.51 L692.12,135.51 L692.65,135.51 L693.17,135.51 L693.69,135.51 L694.22,135.50 L694.74,135.50 L695.26,135.50 L695.79,135.50 L696.31,135.50 L696.83,135.49 L697.36,135.49 L697.88,135.49 L698.40,135.49 L698.93,135.49 L699.45,135.48 L699.98,135.48 L700.50,135.48 L701.02,135.48 L701.55,135.48 L702.07,135.47 L702.59,135.47 L703.12,135.47 L703.64,135.47 L704.16,135.47 L704.69,135.47 L705.21,135.46 L705.74,135.46 L706.26,135.46 L706.78,135.46 L707.31,135.46 L707.83,135.46 L708.35,135.45 L708.88,135.45 L709.40,135.45 L709.92,135.45 L710.45,135.45 L710.97,135.45 L711.49,135.45 L712.02,135.44 L712.54,135.44 L713.06,135.44 L713.59,135.44 L714.11,135.44 L714.64,135.44 L715.16,135.44 L715.68,135.43 L716.21,135.43 L716.73,135.43 L717.25,135.43 L717.78,135.43 L718.30,135.43 L718.82,135.43 L719.35,135.43 L719.87,135.42 L720.39,135.42 L720.92,135.42 L721.44,135.42 L721.97,135.42 L722.49,135.42 L723.01,135.42 L723.54,135.42 L724.06,135.41 L724.58,135.41 L725.11,135.41 L725.63,135.41 L726.15,135.41 L726.68,135.41 L727.20,135.41 L727.73,135.41 L728.25,135.41 L728.77,135.40 L729.30,135.40 L729.82,135.40 L730.34,135.40 L730.87,135.40 L731.39,135.40 L731.91,135.40 L732.44,135.40 L732.96,135.40 L733.48,135.40 L734.01,135.39 L734.53,135.39 L735.05,135.39 L735.58,135.39 L736.10,135.39 L736.63,135.39 L737.15,135.39 L737.67,135.39 L738.20,135.39 L738.72,135.39 L739.24,135.39 L739.77,135.39 L740.29,135.38 L740.81,135.38 L741.34,135.38 L741.86,135.38 L742.38,135.38 L742.91,135.38 L743.43,135.38 L743.96,135.38 L744.48,135.38 L745.00,135.38 L745.53,135.38 L746.05,135.38 L746.57,135.37 L747.10,135.37 L747.62,135.37 L748.14,135.37 L748.67,135.37 L749.19,135.37 L749.72,135.37 L750.24,135.37 L750.76,135.37 L751.29,135.37 L751.81,135.37 L752.33,135.37 L752.86,135.37 L753.38,135.37 L753.90,135.36 L754.43,135.36 L754.95,135.36 L755.47,135.36 L756.00,135.36 L756.52,135.36 L757.04,135.36 L757.57,135.36 L758.09,135.36 L758.62,135.36 L759.14,135.36 L759.66,135.36 L760.19,135.36 L760.71,135.36 L761.23,135.36 L761.76,135.36 L762.28,135.36 L762.80,135.35 L763.33,135.35 L763.85,135.35 L764.38,135.35 L764.90,135.35 L765.42,135.35 L765.95,135.35 L766.47,135.35 L766.99,135.35 L767.52,135.35 L768.04,135.35 L768.56,135.35 L769.09,135.35 L769.61,135.35 L770.13,135.35 L770.66,135.35 L771.18,135.35 L771.71,135.35 L772.23,135.35 L772.75,135.35 L773.28,135.34 L773.80,135.34 L774.32,135.34 L774.85,135.34 L775.37,135.34 L775.89,135.34 L776.42,135.34 L776.94,135.34 L777.46,135.34 L777.99,135.34 L778.51,135.34 L779.03,135.34 L779.56,135.34 L780.08,135.34 L780.61,135.34 L781.13,135.34 L781.65,135.34 L782.18,135.34 L782.70,135.34 L783.22,135.34 L783.75,135.34 L784.27,135.34 L784.79,135.34 L785.32,135.34 L785.84,135.34 L786.37,135.33 L786.89,135.33 L787.41,135.33 L787.94,135.33 L788.46,135.33 L788.98,135.33 L789.51,135.33 L790.03,135.33 L790.55,135.33 L791.08,135.33 L791.60,135.33 L792.12,135.33 L792.65,135.33 L793.17,135.33 L793.69,135.33 L794.22,135.33 L794.74,135.33 L795.27,135.33 L795.79,135.33 L796.31,135.33 L796.84,135.33 L797.36,135.33 L797.88,135.33 L798.41,135.33 L798.93,135.33 L799.45,135.33 L799.98,135.33 L800.50,135.33 L801.02,135.33 L801.55,135.33 L802.07,135.33 L802.60,135.33 L803.12,135.33 L803.64,135.33 L804.17,135.32 L804.69,135.32 L805.21,135.32 L805.74,135.32 L806.26,135.32 L806.78,135.32 L807.31,135.32 L807.83,135.32 L808.35,135.32 L808.88,135.32 L809.40,135.32 L809.93,135.32 L810.45,135.32 L810.97,135.32 L811.50,135.32 L812.02,135.32 L812.54,135.32 L813.07,135.32 L813.59,135.32 L814.11,135.32 L814.64,135.32 L815.16,135.32 L815.68,135.32 L816.21,135.32 L816.73,135.32 L817.26,135.32 L817.78,135.32 L818.30,135.32 L818.83,135.32 L819.35,135.32 L819.87,135.32 L820.40,135.32 L820.92,135.32 L821.44,135.32 L821.97,135.32 L822.49,135.32 L823.01,135.32 L823.54,135.32 L824.06,135.32 L824.59,135.32 L825.11,135.32 L825.63,135.32 L826.16,135.32 L826.68,135.32 L827.20,135.32 L827.73,135.32 L828.25,135.32 L828.77,135.32 L829.30,135.32 L829.82,135.32 L830.34,135.32 L830.87,135.31 L831.39,135.31 L831.92,135.31 L832.44,135.31 L832.96,135.31 L833.49,135.31 L834.01,135.31 L834.53,135.31 L835.06,135.31 L835.58,135.31 L836.10,135.31 L836.63,135.31 L837.15,135.31 L837.67,135.31 L838.20,135.31 L838.72,135.31 L839.25,135.31 L839.77,135.31 L840.29,135.31 L840.82,135.31 L841.34,135.31 L841.86,135.31 L842.39,135.31 L842.91,135.31 L843.43,135.31 L843.96,135.31 L844.48,135.31 L845.00,135.31 L845.53,135.31 L846.05,135.31 L846.58,135.31 L847.10,135.31 L847.62,135.31 L848.15,135.31 L848.67,135.31 L849.19,135.31 L849.72,135.31 L850.24,135.31 L850.76,135.31 L851.29,135.31 L851.81,135.31 L852.33,135.31 L852.86,135.31 L853.38,135.31 L853.91,135.31 L854.43,135.31 L854.95,135.31 L855.48,135.31 L856.00,135.31" stroke="#d95319" stroke-width="1.1" fill="none"/>
<path d="M123.00,506.00 L123.52,505.27 L124.05,504.55 L124.57,503.84 L125.09,503.15 L125.62,502.47 L126.14,501.81 L126.67,501.16 L127.19,500.52 L127.71,499.89 L128.24,499.28 L128.76,498.68 L129.28,498.09 L129.81,497.51 L130.33,496.95 L130.85,496.39 L131.38,495.85 L131.90,495.32 L132.42,494.79 L132.95,494.28 L133.47,493.78 L134.00,493.29 L134.52,492.80 L135.04,492.33 L135.57,491.87 L136.09,491.41 L136.61,490.97 L137.14,490.53 L137.66,490.10 L138.18,489.69 L138.71,489.27 L139.23,488.87 L139.75,488.48 L140.28,488.09 L140.80,487.71 L141.32,487.34 L141.85,486.97 L142.37,486.62 L142.90,486.27 L143.42,485.92 L143.94,485.59 L144.47,485.26 L144.99,484.93 L145.51,484.62 L146.04,484.31 L146.56,484.00 L147.08,483.70 L147.61,483.41 L148.13,483.12 L148.66,482.84 L149.18,482.57 L149.70,482.30 L150.23,482.03 L150.75,481.77 L151.27,481.52 L151.80,481.27 L152.32,481.03 L152.84,480.79 L153.37,480.55 L153.89,480.32 L154.41,480.10 L154.94,479.87 L155.46,479.66 L155.99,479.45 L156.51,479.24 L157.03,479.03 L157.56,478.83 L158.08,478.64 L158.60,478.44 L159.13,478.26 L159.65,478.07 L160.17,477.89 L160.70,477.71 L161.22,477.54 L161.74,477.37 L162.27,477.20 L162.79,477.04 L163.31,476.88 L163.84,476.72 L164.36,476.57 L164.89,476.41 L165.41,476.27 L165.93,476.12 L166.46,475.98 L166.98,475.84 L167.50,475.70 L168.03,475.57 L168.55,475.44 L169.07,475.31 L169.60,475.18 L170.12,475.06 L170.64,474.94 L171.17,474.82 L171.69,474.70 L172.22,474.59 L172.74,474.47 L173.26,474.36 L173.79,474.26 L174.31,474.15 L174.83,474.05 L175.36,473.95 L175.88,473.85 L176.40,473.75 L176.93,473.65 L177.45,473.56 L177.97,473.47 L178.50,473.38 L179.02,473.29 L179.55,473.21 L180.07,473.12 L180.59,473.04 L181.12,472.96 L181.64,472.88 L182.16,472.80 L182.69,472.72 L183.21,472.65 L183.73,472.57 L184.26,472.50 L184.78,472.43 L185.31,472.36 L185.83,472.29 L186.35,472.23 L186.88,472.16 L187.40,472.10 L187.92,472.03 L188.45,471.97 L188.97,471.91 L189.49,471.85 L190.02,471.80 L190.54,471.74 L191.06,471.68 L191.59,471.63 L192.11,471.58 L192.63,471.52 L193.16,471.47 L193.68,471.42 L194.21,471.37 L194.73,471.32 L195.25,471.28 L195.78,471.23 L196.30,471.18 L196.82,471.14 L197.35,471.10 L197.87,471.05 L198.39,471.01 L198.92,470.97 L199.44,470.93 L199.96,470.89 L200.49,470.85 L201.01,470.81 L201.54,470.78 L202.06,470.74 L202.58,470.70 L203.11,470.67 L203.63,470.63 L204.15,470.60 L204.68,470.57 L205.20,470.53 L205.72,470.50 L206.25,470.47 L206.77,470.44 L207.30,470.41 L207.82,470.38 L208.34,470.35 L208.87,470.32 L209.39,470.30 L209.91,470.27 L210.44,470.24 L210.96,470.22 L211.48,470.19 L212.01,470.17 L212.53,470.14 L213.05,470.12 L213.58,470.10 L214.10,470.07 L214.62,470.05 L215.15,470.03 L215.67,470.01 L216.20,469.98 L216.72,469.96 L217.24,469.94 L217.77,469.92 L218.29,469.90 L218.81,469.88 L219.34,469.87 L219.86,469.85 L220.38,469.83 L220.91,469.81 L221.43,469.79 L221.95,469.78 L222.48,469.76 L223.00,469.74 L223.53,469.73 L224.05,469.71 L224.57,469.70 L225.10,469.68 L225.62,469.67 L226.14,469.65 L226.67,469.64 L227.19,469.62 L227.71,469.61 L228.24,469.60 L228.76,469.58 L229.28,469.57 L229.81,469.56 L230.33,469.54 L230.86,469.53 L231.38,469.52 L231.90,469.51 L232.43,469.50 L232.95,469.49 L233.47,469.47 L234.00,469.46 L234.52,469.45 L235.04,469.44 L235.57,469.43 L236.09,469.42 L236.62,469.41 L237.14,469.40 L237.66,469.39 L238.19,469.39 L238.71,469.38 L239.23,469.37 L239.76,469.36 L240.28,469.35 L240.80,469.34 L241.33,469.33 L241.85,469.33 L242.37,469.32 L242.90,469.31 L243.42,469.30 L243.94,469.30 L244.47,469.29 L244.99,469.28 L245.52,469.27 L246.04,469.27 L246.56,469.26 L247.09,469.25 L247.61,469.25 L248.13,469.24 L248.66,469.24 L249.18,469.23 L249.70,469.22 L250.23,469.22 L250.75,469.21 L251.28,469.21 L251.80,469.20 L252.32,469.20 L252.85,469.19 L253.37,469.18 L253.89,469.18 L254.42,469.17 L254.94,469.17 L255.46,469.17 L255.99,469.16 L256.51,469.16 L257.03,469.15 L257.56,469.15 L258.08,469.14 L258.61,469.14 L259.13,469.13 L259.65,469.13 L260.18,469.13 L260.70,469.12 L261.22,469.12 L261.75,469.12 L262.27,469.11 L262.79,469.11 L263.32,469.10 L263.84,469.10 L264.36,469.10 L264.89,469.09 L265.41,469.09 L265.94,469.09 L266.46,469.08 L266.98,469.08 L267.51,469.08 L268.03,469.08 L268.55,469.07 L269.08,469.07 L269.60,469.07 L270.12,469.06 L270.65,469.06 L271.17,469.06 L271.69,469.06 L272.22,469.05 L272.74,469.05 L273.26,469.05 L273.79,469.05 L274.31,469.04 L274.84,469.04 L275.36,469.04 L275.88,469.04 L276.41,469.04 L276.93,469.03 L277.45,469.03 L277.98,469.03 L278.50,469.03 L279.02,469.03 L279.55,469.02 L280.07,469.02 L280.59,469.02 L281.12,469.02 L281.64,469.02 L282.17,469.01 L282.69,469.01 L283.21,469.01 L283.74,469.01 L284.26,469.01 L284.78,469.01 L285.31,469.01 L285.83,469.00 L286.35,469.00 L286.88,469.00 L287.40,469.00 L287.92,469.00 L288.45,469.00 L288.97,469.00 L289.50,468.99 L290.02,468.99 L290.54,468.99 L291.07,468.99 L291.59,468.99 L292.11,468.99 L292.64,468.99 L293.16,468.99 L293.68,468.98 L294.21,468.98 L294.73,468.98 L295.25,468.98 L295.78,468.98 L296.30,468.98 L296.83,468.98 L297.35,468.98 L297.87,468.98 L298.40,468.98 L298.92,468.97 L299.02,468.97 L301.54,465.28 L302.06,461.63 L302.59,458.01 L303.11,454.43 L303.63,450.89 L304.16,447.38 L304.68,443.90 L305.20,440.46 L305.73,437.06 L306.25,433.69 L306.77,430.35 L307.30,427.04 L307.82,423.77 L308.34,420.53 L308.87,417.33 L309.39,414.15 L309.91,411.01 L310.44,407.89 L310.96,404.81 L311.49,401.76 L312.01,398.74 L312.53,395.75 L313.06,392.79 L313.58,389.86 L314.10,386.96 L314.63,384.08 L315.15,381.24 L315.67,378.42 L316.20,375.63 L316.72,372.87 L317.25,370.14 L317.77,367.44 L318.29,364.76 L318.82,362.10 L319.34,359.48 L319.86,356.88 L320.39,354.30 L320.91,351.76 L321.43,349.23 L321.96,346.74 L322.48,344.26 L323.00,341.82 L323.53,339.39 L324.05,336.99 L324.57,334.62 L325.10,332.26 L325.62,329.93 L326.15,327.63 L326.67,325.35 L327.19,323.09 L327.72,320.85 L328.24,318.63 L328.76,316.44 L329.29,314.27 L329.81,312.12 L330.33,309.99 L330.86,307.88 L331.38,305.80 L331.90,303.73 L332.43,301.69 L332.95,299.66 L333.48,297.66 L334.00,295.67 L334.52,293.71 L335.05,291.76 L335.57,289.84 L336.09,287.93 L336.62,286.04 L337.14,284.17 L337.66,282.32 L338.19,280.49 L338.71,278.68 L339.24,276.88 L339.76,275.11 L340.28,273.35 L340.81,271.60 L341.33,269.88 L341.85,268.17 L342.38,266.48 L342.90,264.80 L343.42,263.15 L343.95,261.51 L344.47,259.88 L344.99,258.27 L345.52,256.68 L346.04,255.10 L346.56,253.54 L347.09,252.00 L347.61,250.47 L348.14,248.95 L348.66,247.45 L349.18,245.97 L349.71,244.50 L350.23,243.04 L350.75,241.60 L351.28,240.17 L351.80,238.76 L352.32,237.36 L352.85,235.98 L353.37,234.61 L353.89,233.25 L354.42,231.91 L354.94,230.58 L355.47,229.26 L355.99,227.96 L356.51,226.67 L357.04,225.39 L357.56,224.12 L358.08,222.87 L358.61,221.63 L359.13,220.40 L359.65,219.19 L360.18,217.98 L360.70,216.79 L361.22,215.61 L361.75,214.44 L362.27,213.29 L362.80,212.14 L363.32,211.01 L363.84,209.89 L364.37,208.78 L364.89,207.68 L365.41,206.59 L365.94,205.51 L366.46,204.44 L366.98,203.38 L367.51,202.34 L368.03,201.30 L368.56,200.28 L369.08,199.26 L369.60,198.26 L370.13,197.26 L370.65,196.27 L371.17,195.30 L371.70,194.33 L372.22,193.38 L372.74,192.43 L373.27,191.49 L373.79,190.56 L374.31,189.65 L374.84,188.74 L375.36,187.84 L375.88,186.94 L376.41,186.06 L376.93,185.19 L377.46,184.32 L377.98,183.47 L378.50,182.62 L379.03,181.78 L379.55,180.95 L380.07,180.12 L380.60,179.31 L381.12,178.50 L381.64,177.70 L382.17,176.91 L382.69,176.13 L383.21,175.35 L383.74,174.59 L384.26,173.83 L384.79,173.07 L385.31,172.33 L385.83,171.59 L386.36,170.86 L386.88,170.14 L387.40,169.42 L387.93,168.72 L388.45,168.01 L388.97,167.32 L389.50,166.63 L390.02,165.95 L390.55,165.28 L391.07,164.61 L391.59,163.95 L392.12,163.30 L392.64,162.65 L393.16,162.01 L393.69,161.37 L394.21,160.75 L394.73,160.12 L395.26,159.51 L395.78,158.90 L396.30,158.29 L396.83,157.70 L397.35,157.10 L397.88,156.52 L398.40,155.94 L398.92,155.36 L399.45,154.80 L399.97,154.23 L400.49,153.68 L401.02,153.12 L401.54,152.58 L402.06,152.04 L402.59,151.50 L403.11,150.97 L403.63,150.45 L404.16,149.93 L404.68,149.41 L405.20,148.90 L405.73,148.40 L406.25,147.90 L406.78,147.41 L407.30,146.92 L407.82,146.43 L408.35,145.95 L408.87,145.48 L409.39,145.01 L409.92,144.54 L410.44,144.08 L410.96,143.63 L411.49,143.17 L412.01,142.73 L412.53,142.28 L413.06,141.85 L413.58,141.41 L414.11,140.98 L414.63,140.56 L415.15,140.14 L415.68,139.72 L416.20,139.31 L416.72,138.90 L417.25,138.49 L417.77,138.09 L418.29,137.69 L418.82,137.30 L419.34,136.91 L419.86,136.53 L420.39,136.15 L420.91,135.77 L421.44,135.40 L421.96,135.03 L422.48,134.66 L423.01,134.30 L423.53,133.94 L424.05,133.58 L424.58,133.23 L425.10,132.88 L425.62,132.54 L426.15,132.20 L426.67,131.86 L427.19,131.52 L427.72,131.19 L428.24,130.87 L428.77,130.54 L429.29,130.22 L429.81,129.90 L430.34,129.59 L430.86,129.27 L431.38,128.97 L431.91,128.66 L432.43,128.36 L432.95,128.06 L433.48,127.76 L434.00,127.47 L434.52,127.18 L435.05,126.89 L435.57,126.60 L436.10,126.32 L436.62,126.04 L437.14,125.76 L437.67,125.49 L438.19,125.22 L438.71,124.95 L439.24,124.68 L439.76,124.42 L440.28,124.16 L440.81,123.90 L441.33,123.65 L441.85,123.39 L442.38,123.14 L442.90,122.90 L443.43,122.65 L443.95,122.41 L444.47,122.17 L445.00,121.93 L445.52,121.69 L446.04,121.46 L446.57,121.23 L447.09,121.00 L447.61,120.77 L448.14,120.55 L448.66,120.33 L449.19,120.11 L449.71,119.89 L450.23,119.67 L450.76,119.46 L451.28,119.25 L451.80,119.04 L452.33,118.83 L452.85,118.63 L453.37,118.42 L453.90,118.22 L454.42,118.02 L454.94,117.83 L455.47,117.63 L455.99,117.44 L456.51,117.25 L457.04,117.06 L457.56,116.87 L458.09,116.69 L458.61,116.50 L459.13,116.32 L459.66,116.14 L460.18,115.96 L460.70,115.79 L461.23,115.61 L461.75,115.44 L462.27,115.27 L462.80,115.10 L463.32,114.93 L463.84,114.76 L464.37,114.60 L464.89,114.44 L465.42,114.28 L465.94,114.12 L466.46,113.96 L466.99,113.80 L467.51,113.65 L468.03,113.49 L468.56,113.34 L469.08,113.19 L469.60,113.04 L470.13,112.89 L470.65,112.75 L471.18,112.60 L471.70,112.46 L472.22,112.32 L472.75,112.18 L473.27,112.04 L473.79,111.90 L474.32,111.77 L474.84,111.63 L475.36,111.50 L475.89,111.37 L476.41,111.24 L476.93,111.11 L477.46,110.98 L477.98,110.85 L478.50,110.73 L479.03,110.60 L479.55,110.48 L480.08,110.36 L480.60,110.24 L481.12,110.12 L481.65,110.00 L482.17,109.88 L482.69,109.77 L483.22,109.65 L483.74,109.54 L484.26,109.42 L484.79,109.31 L485.31,109.20 L485.83,109.09 L486.36,108.99 L486.88,108.88 L487.41,108.77 L487.93,108.67 L488.45,108.56 L488.98,108.46 L489.50,108.36 L490.02,108.26 L490.55,108.16 L491.07,108.06 L491.59,107.96 L492.12,107.86 L492.64,107.77 L493.17,107.67 L493.69,107.58 L494.21,107.49 L494.74,107.40 L495.26,107.30 L495.78,107.21 L496.31,107.12 L496.83,107.04 L497.35,106.95 L497.88,106.86 L498.40,106.78 L498.92,106.69 L499.45,106.61 L499.97,106.52 L500.50,106.44 L501.02,106.36 L501.54,106.28 L502.07,106.20 L502.59,106.12 L503.11,106.04 L503.64,105.96 L504.16,105.89 L504.68,105.81 L505.21,105.73 L505.73,105.66 L506.25,105.59 L506.78,105.51 L507.30,105.44 L507.82,105.37 L508.35,105.30 L508.87,105.23 L509.40,105.16 L509.92,105.09 L510.44,105.02 L510.97,104.95 L511.49,104.89 L512.01,104.82 L512.54,104.75 L513.06,104.69 L513.58,104.62 L514.11,104.56 L514.63,104.50 L515.15,104.44 L515.68,104.37 L516.20,104.31 L516.73,104.25 L517.25,104.19 L517.77,104.13 L518.30,104.07 L518.82,104.02 L519.34,103.96 L519.87,103.90 L520.39,103.84 L520.91,103.79 L521.44,103.73 L521.96,103.68 L522.48,103.62 L523.01,103.57 L523.53,103.52 L524.06,103.47 L524.58,103.41 L525.10,103.36 L525.63,103.31 L526.15,103.26 L526.67,103.21 L527.20,103.16 L527.72,103.11 L528.24,103.06 L528.77,103.01 L529.29,102.97 L529.81,102.92 L530.34,102.87 L530.86,102.83 L531.39,102.78 L531.91,102.74 L532.43,102.69 L532.96,102.65 L533.48,102.60 L534.00,102.56 L534.53,102.52 L535.05,102.47 L535.57,102.43 L536.10,102.39 L536.62,102.35 L537.14,102.31 L537.67,102.27 L538.19,102.23 L538.72,102.19 L539.24,102.15 L539.76,102.11 L540.29,102.07 L540.81,102.03 L541.33,101.99 L541.86,101.96 L542.38,101.92 L542.90,101.88 L543.43,101.85 L543.95,101.81 L544.48,101.77 L545.00,101.74 L545.52,101.70 L546.05,101.67 L546.57,101.64 L547.09,101.60 L547.62,101.57 L548.14,101.53 L548.66,101.50 L549.19,101.47 L549.71,101.44 L550.23,101.41 L550.76,101.37 L551.28,101.34 L551.80,101.31 L552.33,101.28 L552.85,101.25 L553.38,101.22 L553.90,101.19 L554.42,101.16 L554.95,101.13 L555.47,101.10 L555.99,101.07 L556.52,101.05 L557.04,101.02 L557.56,100.99 L558.09,100.96 L558.61,100.94 L559.13,100.91 L559.66,100.88 L560.18,100.86 L560.71,100.83 L561.23,100.80 L561.75,100.78 L562.28,100.75 L562.80,100.73 L563.32,100.70 L563.85,100.68 L564.37,100.65 L564.89,100.63 L565.42,100.61 L565.94,100.58 L566.47,100.56 L566.99,100.54 L567.51,100.51 L568.04,100.49 L568.56,100.47 L569.08,100.45 L569.61,100.42 L570.13,100.40 L570.65,100.38 L571.18,100.36 L571.70,100.34 L572.22,100.32 L572.75,100.30 L573.27,100.27 L573.79,100.25 L574.32,100.23 L574.84,100.21 L575.37,100.19 L575.89,100.18 L576.41,100.16 L576.94,100.14 L577.46,100.12 L577.98,100.10 L578.51,100.08 L579.03,100.06 L579.55,100.04 L580.08,100.03 L580.60,100.01 L581.12,99.99 L581.65,99.97 L582.17,99.96 L582.70,99.94 L583.22,99.92 L583.74,99.90 L584.27,99.89 L584.79,99.87 L585.31,99.85 L585.84,99.84 L586.36,99.82 L586.88,99.81 L587.41,99.79 L587.93,99.78 L588.45,99.76 L588.98,99.74 L589.50,99.73 L590.03,99.71 L590.55,99.70 L591.07,99.69 L591.60,99.67 L592.12,99.66 L592.64,99.64 L593.17,99.63 L593.69,99.61 L594.21,99.60 L594.74,99.59 L595.26,99.57 L595.78,99.56 L596.31,99.55 L596.83,99.53 L597.36,99.52 L597.88,99.51 L598.40,99.50 L598.93,99.48 L599.45,99.47 L599.97,99.46 L600.50,99.45 L601.02,99.43 L601.54,99.42 L602.07,99.41 L602.59,99.40 L603.12,99.39 L603.64,99.37 L604.16,99.36 L604.69,99.35 L605.21,99.34 L605.73,99.33 L606.26,99.32 L606.78,99.31 L607.30,99.30 L607.83,99.29 L608.35,99.28 L608.87,99.27 L609.40,99.26 L609.92,99.25 L610.44,99.24 L610.97,99.23 L611.49,99.22 L612.02,99.21 L612.54,99.20 L613.06,99.19 L613.59,99.18 L614.11,99.17 L614.63,99.16 L615.16,99.15 L615.68,99.14 L616.20,99.13 L616.73,99.12 L617.25,99.11 L617.77,99.10 L618.30,99.10 L618.82,99.09 L619.35,99.08 L619.87,99.07 L620.39,99.06 L620.92,99.05 L621.44,99.04 L621.96,99.04 L622.49,99.03 L623.01,99.02 L623.53,99.01 L624.06,99.01 L624.58,99.00 L625.11,98.99 L625.63,98.98 L626.15,98.97 L626.68,98.97 L627.20,98.96 L627.72,98.95 L628.25,98.95 L628.77,98.94 L629.29,98.93 L629.82,98.92 L630.34,98.92 L630.86,98.91 L631.39,98.90 L631.91,98.90 L632.43,98.89 L632.96,98.88 L633.48,98.88 L634.01,98.87 L634.53,98.86 L635.05,98.86 L635.58,98.85 L636.10,98.85 L636.62,98.84 L637.15,98.83 L637.67,98.83 L638.19,98.82 L638.72,98.82 L639.24,98.81 L639.76,98.80 L640.29,98.80 L640.81,98.79 L641.34,98.79 L641.86,98.78 L642.38,98.78 L642.91,98.77 L643.43,98.77 L643.95,98.76 L644.48,98.75 L645.00,98.75 L645.52,98.74 L646.05,98.74 L646.57,98.73 L647.09,98.73 L647.62,98.72 L648.14,98.72 L648.67,98.71 L649.19,98.71 L649.71,98.70 L650.24,98.70 L650.76,98.70 L651.28,98.69 L651.81,98.69 L652.33,98.68 L652.85,98.68 L653.38,98.67 L653.90,98.67 L654.42,98.66 L654.95,98.66 L655.47,98.66 L656.00,98.65 L656.52,98.65 L657.04,98.64 L657.57,98.64 L658.09,98.63 L658.61,98.63 L659.14,98.63 L659.66,98.62 L660.18,98.62 L660.71,98.61 L661.23,98.61 L661.75,98.61 L662.28,98.60 L662.80,98.60 L663.33,98.60 L663.85,98.59 L664.37,98.59 L664.90,98.59 L665.42,98.58 L665.94,98.58 L666.47,98.57 L666.99,98.57 L667.51,98.57 L668.04,98.56 L668.56,98.56 L669.08,98.56 L669.61,98.55 L670.13,98.55 L670.66,98.55 L671.18,98.55 L671.70,98.54 L672.23,98.54 L672.75,98.54 L673.27,98.53 L673.80,98.53 L674.32,98.53 L674.84,98.52 L675.37,98.52 L675.89,98.52 L676.41,98.52 L676.94,98.51 L677.46,98.51 L677.99,98.51 L678.51,98.50 L679.03,98.50 L679.56,98.50 L680.08,98.50 L680.60,98.49 L681.13,98.49 L681.65,98.49 L682.17,98.49 L682.70,98.48 L683.22,98.48 L683.75,98.48 L684.27,98.48 L684.79,98.47 L685.32,98.47 L685.84,98.47 L686.36,98.47 L686.89,98.46 L687.41,98.46 L687.93,98.46 L688.46,98.46 L688.98,98.45 L689.50,98.45 L690.03,98.45 L690.55,98.45 L691.07,98.45 L691.60,98.44 L692.12,98.44 L692.65,98.44 L693.17,98.44 L693.69,98.44 L694.22,98.43 L694.74,98.43 L695.26,98.43 L695.79,98.43 L696.31,98.43 L696.83,98.42 L697.36,98.42 L697.88,98.42 L698.40,98.42 L698.93,98.42 L699.45,98.41 L699.98,98.41 L700.50,98.41 L701.02,98.41 L701.55,98.41 L702.07,98.40 L702.59,98.40 L703.12,98.40 L703.64,98.40 L704.16,98.40 L704.69,98.40 L705.21,98.39 L705.74,98.39 L706.26,98.39 L706.78,98.39 L707.31,98.39 L707.83,98.39 L708.35,98.38 L708.88,98.38 L709.40,98.38 L709.92,98.38 L710.45,98.38 L710.97,98.38 L711.49,98.38 L712.02,98.37 L712.54,98.37 L713.06,98.37 L713.59,98.37 L714.11,98.37 L714.64,98.37 L715.16,98.37 L715.68,98.36 L716.21,98.36 L716.73,98.36 L717.25,98.36 L717.78,98.36 L718.30,98.36 L718.82,98.36 L719.35,98.36 L719.87,98.35 L720.39,98.35 L720.92,98.35 L721.44,98.35 L721.97,98.35 L722.49,98.35 L723.01,98.35 L723.54,98.35 L724.06,98.34 L724.58,98.34 L725.11,98.34 L725.63,98.34 L726.15,98.34 L726.68,98.34 L727.20,98.34 L727.73,98.34 L728.25,98.34 L728.77,98.33 L729.30,98.33 L729.82,98.33 L730.34,98.33 L730.87,98.33 L731.39,98.33 L731.91,98.33 L732.44,98.33 L732.96,98.33 L733.48,98.33 L734.01,98.32 L734.53,98.32 L735.05,98.32 L735.58,98.32 L736.10,98.32 L736.63,98.32 L737.15,98.32 L737.67,98.32 L738.20,98.32 L738.72,98.32 L739.24,98.32 L739.77,98.32 L740.29,98.31 L740.81,98.31 L741.34,98.31 L741.86,98.31 L742.38,98.31 L742.91,98.31 L743.43,98.31 L743.96,98.31 L744.48,98.31 L745.00,98.31 L745.53,98.31 L746.05,98.31 L746.57,98.30 L747.10,98.30 L747.62,98.30 L748.14,98.30 L748.67,98.30 L749.19,98.30 L749.72,98.30 L750.24,98.30 L750.76,98.30 L751.29,98.30 L751.81,98.30 L752.33,98.30 L752.86,98.30 L753.38,98.30 L753.90,98.29 L754.43,98.29 L754.95,98.29 L755.47,98.29 L756.00,98.29 L756.52,98.29 L757.04,98.29 L757.57,98.29 L758.09,98.29 L758.62,98.29 L759.14,98.29 L759.66,98.29 L760.19,98.29 L760.71,98.29 L761.23,98.29 L761.76,98.29 L762.28,98.29 L762.80,98.28 L763.33,98.28 L763.85,98.28 L764.38,98.28 L764.90,98.28 L765.42,98.28 L765.95,98.28 L766.47,98.28 L766.99,98.28 L767.52,98.28 L768.04,98.28 L768.56,98.28 L769.09,98.28 L769.61,98.28 L770.13,98.28 L770.66,98.28 L771.18,98.28 L771.71,98.28 L772.23,98.28 L772.75,98.28 L773.28,98.27 L773.80,98.27 L774.32,98.27 L774.85,98.27 L775.37,98.27 L775.89,98.27 L776.42,98.27 L776.94,98.27 L777.46,98.27 L777.99,98.27 L778.51,98.27 L779.03,98.27 L779.56,98.27 L780.08,98.27 L780.61,98.27 L781.13,98.27 L781.65,98.27 L782.18,98.27 L782.70,98.27 L783.22,98.27 L783.75,98.27 L784.27,98.27 L784.79,98.27 L785.32,98.27 L785.84,98.27 L786.37,98.26 L786.89,98.26 L787.41,98.26 L787.94,98.26 L788.46,98.26 L788.98,98.26 L789.51,98.26 L790.03,98.26 L790.55,98.26 L791.08,98.26 L791.60,98.26 L792.12,98.26 L792.65,98.26 L793.17,98.26 L793.69,98.26 L794.22,98.26 L794.74,98.26 L795.27,98.26 L795.79,98.26 L796.31,98.26 L796.84,98.26 L797.36,98.26 L797.88,98.26 L798.41,98.26 L798.93,98.26 L799.45,98.26 L799.98,98.26 L800.50,98.26 L801.02,98.26 L801.55,98.26 L802.07,98.26 L802.60,98.26 L803.12,98.26 L803.64,98.26 L804.17,98.25 L804.69,98.25 L805.21,98.25 L805.74,98.25 L806.26,98.25 L806.78,98.25 L807.31,98.25 L807.83,98.25 L808.35,98.25 L808.88,98.25 L809.40,98.25 L809.93,98.25 L810.45,98.25 L810.97,98.25 L811.50,98.25 L812.02,98.25 L812.54,98.25 L813.07,98.25 L813.59,98.25 L814.11,98.25 L814.64,98.25 L815.16,98.25 L815.68,98.25 L816.21,98.25 L816.73,98.25 L817.26,98.25 L817.78,98.25 L818.30,98.25 L818.83,98.25 L819.35,98.25 L819.87,98.25 L820.40,98.25 L820.92,98.25 L821.44,98.25 L821.97,98.25 L822.49,98.25 L823.01,98.25 L823.54,98.25 L824.06,98.25 L824.59,98.25 L825.11,98.25 L825.63,98.25 L826.16,98.25 L826.68,98.25 L827.20,98.25 L827.73,98.25 L828.25,98.25 L828.77,98.25 L829.30,98.25 L829.82,98.25 L830.34,98.25 L830.87,98.24 L831.39,98.24 L831.92,98.24 L832.44,98.24 L832.96,98.24 L833.49,98.24 L834.01,98.24 L834.53,98.24 L835.06,98.24 L835.58,98.24 L836.10,98.24 L836.63,98.24 L837.15,98.24 L837.67,98.24 L838.20,98.24 L838.72,98.24 L839.25,98.24 L839.77,98.24 L840.29,98.24 L840.82,98.24 L841.34,98.24 L841.86,98.24 L842.39,98.24 L842.91,98.24 L843.43,98.24 L843.96,98.24 L844.48,98.24 L845.00,98.24 L845.53,98.24 L846.05,98.24 L846.58,98.24 L847.10,98.24 L847.62,98.24 L848.15,98.24 L848.67,98.24 L849.19,98.24 L849.72,98.24 L850.24,98.24 L850.76,98.24 L851.29,98.24 L851.81,98.24 L852.33,98.24 L852.86,98.24 L853.38,98.24 L853.91,98.24 L854.43,98.24 L854.95,98.24 L855.48,98.24 L856.00,98.24" stroke="#edb120" stroke-width="1.1" fill="none"/>
<text x="123.5" y="525" text-anchor="middle" font-family='"Liberation Sans", sans-serif' font-size="14.67" fill="#262626">0</text>
<text x="228.0" y="525" text-anchor="middle" font-family='"Liberation Sans", sans-serif' font-size="14.67" fill="#262626">2</text>
<text x="332.0" y="525" text-anchor="middle" font-family='"Liberation Sans", sans-serif' font-size="14.67" fill="#262626">4</text>
<text x="437.5" y="525" text-anchor="middle" font-family='"Liberation Sans", sans-serif' font-size="14.67" fill="#262626">6</text>
<text x="542.0" y="525" text-anchor="middle" font-family='"Liberation Sans", sans-serif' font-size="14.67" fill="#262626">8</text>
<text x="647.0" y="525" text-anchor="middle" font-family='"Liberation Sans", sans-serif' font-size="14.67" fill="#262626">10</text>
<text x="751.5" y="525" text-anchor="middle" font-family='"Liberation Sans", sans-serif' font-size="14.67" fill="#262626">12</text>
<text x="856.0" y="525" text-anchor="middle" font-family='"Liberation Sans", sans-serif' font-size="14.67" fill="#262626">14</text>
<text x="117.5" y="511" text-anchor="end" font-family='"Liberation Sans", sans-serif' font-size="14.67" fill="#262626">0</text>
<text x="117.5" y="437" text-anchor="end" font-family='"Liberation Sans", sans-serif' font-size="14.67" fill="#262626">1</text>
<text x="117.5" y="363" text-anchor="end" font-family='"Liberation Sans", sans-serif' font-size="14.67" fill="#262626">2</text>
<text x="117.5" y="288" text-anchor="end" font-family='"Liberation Sans", sans-serif' font-size="14.67" fill="#262626">3</text>
<text x="117.5" y="214" text-anchor="end" font-family='"Liberation Sans", sans-serif' font-size="14.67" fill="#262626">4</text>
<text x="117.5" y="140" text-anchor="end" font-family='"Liberation Sans", sans-serif' font-size="14.67" fill="#262626">5</text>
<text x="117.5" y="66" text-anchor="end" font-family='"Liberation Sans", sans-serif' font-size="14.67" fill="#262626">6</text>
<text x="490" y="548" text-anchor="middle" font-family='"Liberation Sans", sans-serif' font-size="15.33" fill="#262626">Time (seconds)</text>
<text transform="translate(80,284.2) rotate(-90)" x="0" y="0" text-anchor="middle" font-family='"Liberation Sans", sans-serif' font-size="15.33" fill="#262626">Amplitude</text>
<text x="490" y="25" text-anchor="middle" font-family='"Liberation Sans", sans-serif' font-size="15.33" font-weight="bold" fill="#111">Step Response</text>
<rect x="134.5" y="72.5" width="68" height="46" fill="#fff" stroke="#262626" stroke-width="1"/>
<path d="M138,81.5 H180" stroke="#0072bd" stroke-width="1"/>
<text x="183" y="85" font-family='"Liberation Sans", sans-serif' font-size="12.67" fill="#262626">H1</text>
<path d="M138,95.5 H180" stroke="#d95319" stroke-width="1"/>
<text x="183" y="99" font-family='"Liberation Sans", sans-serif' font-size="12.67" fill="#262626">H2</text>
<path d="M138,110.5 H180" stroke="#edb120" stroke-width="1"/>
<text x="183" y="114" font-family='"Liberation Sans", sans-serif' font-size="12.67" fill="#262626">H</text>
</svg>
</body></html>
